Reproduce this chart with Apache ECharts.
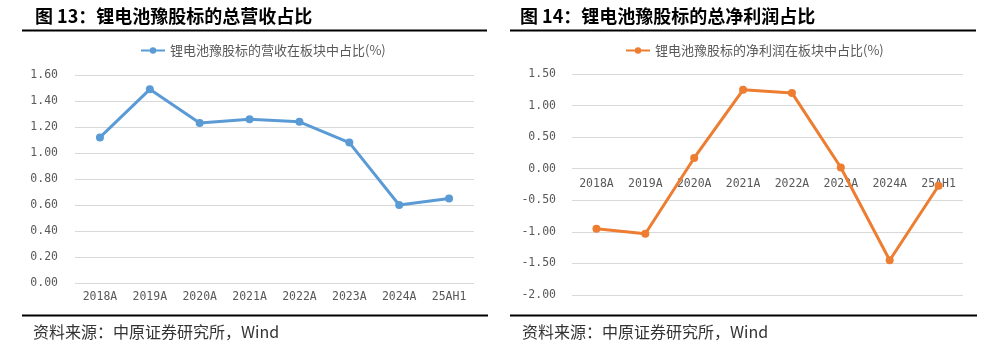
<!DOCTYPE html>
<html><head><meta charset="utf-8">
<script src="https://cdn.jsdelivr.net/npm/echarts@6/dist/echarts.min.js"></script>
<style>html,body{margin:0;padding:0;background:#fff}#c{width:993px;height:347px}</style>
</head><body><div id="c"></div>
<script>
const categories = ['2018A','2019A','2020A','2021A','2022A','2023A','2024A','25AH1'];
const revenueShare = [1.12, 1.49, 1.23, 1.26, 1.24, 1.08, 0.60, 0.65];
const profitShare = [-0.95, -1.03, 0.17, 1.25, 1.20, 0.02, -1.45, -0.27];
const leftTitle = '图 13：锂电池豫股标的总营收占比';
const rightTitle = '图 14：锂电池豫股标的总净利润占比';
const revenueName = '锂电池豫股标的营收在板块中占比(%)';
const profitName = '锂电池豫股标的净利润在板块中占比(%)';
const sourceText = '资料来源：中原证券研究所，Wind';

const chart = echarts.init(document.getElementById('c'));
const labelFont = {color:'#595959', fontSize:11.5, fontFamily:'DejaVu Sans Mono'};
const gridLine = {show:true, lineStyle:{color:'#d9d9d9', width:1}};
function xAxis(gi, m, off){
  return {type:'category', gridIndex:gi, data:categories, boundaryGap:true, position:'bottom', offset:off,
    axisLine:{show:false, onZero:false}, axisTick:{show:false},
    axisLabel:Object.assign({margin:m, interval:0}, labelFont)};
}
function yAxis(gi, min, max, step, m){
  return {type:'value', gridIndex:gi, min:min, max:max, interval:step,
    axisLine:{show:false}, axisTick:{show:false}, splitLine:gridLine,
    axisLabel:Object.assign({margin:m, formatter:v=>v.toFixed(2)}, labelFont)};
}
const line = (x1,y,x2)=>({type:'line', shape:{x1:x1,y1:y,x2:x2,y2:y}, style:{stroke:'#000', lineWidth:2}});
const txt = (x,y,t,font,fill)=>({type:'text', x:x, y:y, style:{text:t, font:font, fill:fill, textVerticalAlign:'middle', verticalAlign:'middle'}});
chart.setOption({
  animation:false,
  grid:[
    {left:75, top:75, width:399, height:208},
    {left:572, top:74, width:391, height:221}
  ],
  legend:[
    {data:[revenueName], left:135, top:39, itemWidth:24, itemHeight:8, itemGap:4,
     textStyle:{color:'#595959', fontSize:13, fontFamily:'Noto Sans CJK SC'}},
    {data:[profitName], left:620, top:39, itemWidth:24, itemHeight:8, itemGap:4,
     textStyle:{color:'#595959', fontSize:13, fontFamily:'Noto Sans CJK SC'}}
  ],
  xAxis:[xAxis(0,8,0), xAxis(1,9,-126.3)],
  yAxis:[yAxis(0,0,1.6,0.2,17), yAxis(1,-2,1.5,0.5,16)],
  series:[
    {name:revenueName, type:'line', xAxisIndex:0, yAxisIndex:0, data:revenueShare,
     symbol:'circle', symbolSize:8, lineStyle:{width:3, color:'#5B9BD5'}, itemStyle:{color:'#5B9BD5'}},
    {name:profitName, type:'line', xAxisIndex:1, yAxisIndex:1, data:profitShare,
     symbol:'circle', symbolSize:8, lineStyle:{width:3, color:'#ED7D31'}, itemStyle:{color:'#ED7D31'}, z:3}
  ],
  graphic:[
    txt(35,16,leftTitle,'bold 18px "Noto Sans CJK SC"','#000'),
    txt(520,16,rightTitle,'bold 18px "Noto Sans CJK SC"','#000'),
    line(22,30.5,487), line(510,30.5,976),
    line(22,315.5,488), line(510,315.5,977),
    txt(33,332,sourceText,'16px "Noto Sans CJK SC"','#333'),
    txt(522,332,sourceText,'16px "Noto Sans CJK SC"','#333')
  ]
});
</script></body></html>
